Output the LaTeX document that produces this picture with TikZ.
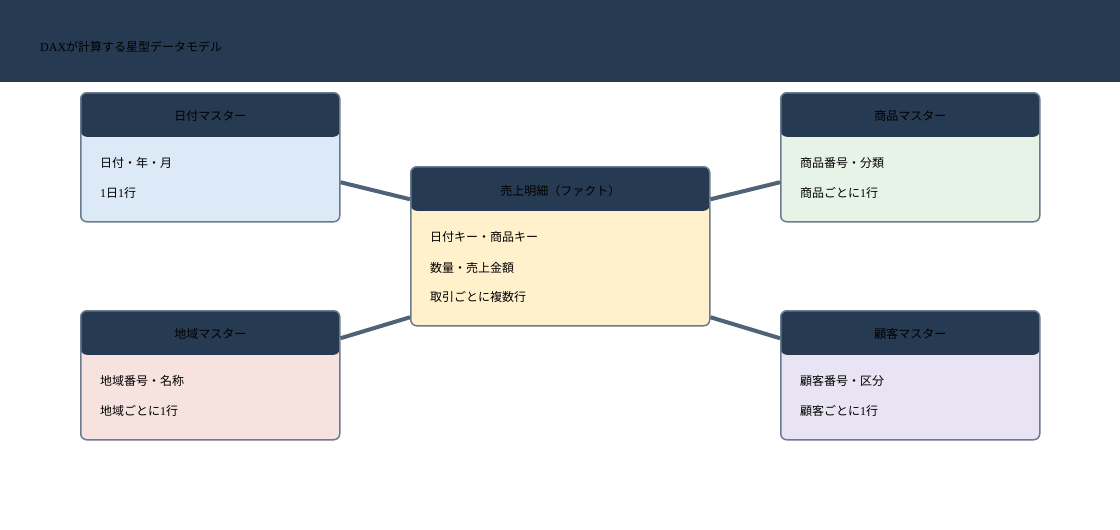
\documentclass[tikz,border=0pt]{standalone}
\usepackage{fontspec}
\setmainfont{Liberation Serif}
\newfontfamily\jp{Noto Sans CJK JP}
\usetikzlibrary{positioning}

\definecolor{bandblue}{HTML}{263A52}
\definecolor{boxline}{HTML}{6B7A8C}
\definecolor{linkgray}{HTML}{4F6278}
\definecolor{datefill}{HTML}{DCE9F6}
\definecolor{prodfill}{HTML}{E8F3E8}
\definecolor{areafill}{HTML}{F6E3E0}
\definecolor{custfill}{HTML}{E8E4F4}
\definecolor{factfill}{HTML}{FFF1CC}

\tikzset{
  tablebox/.style={draw=boxline, line width=1.5pt, rounded corners=6pt,
    anchor=north west, minimum width=259pt, minimum height=129pt, inner sep=0pt,
    path picture={\fill[bandblue] (path picture bounding box.north west)
      rectangle ([yshift=-44pt]path picture bounding box.north east);}},
  tabletitle/.style={font=\fontsize{12}{14}\selectfont, text=black},
  row/.style={anchor=west, inner sep=0pt, font=\fontsize{12}{14}\selectfont, text=black},
  link/.style={draw=linkgray, line width=4pt},
}

\begin{document}
\begin{tikzpicture}[x=1pt, y=-1pt]
\useasboundingbox [fill=white] (0,0) rectangle (1120,530);
\fill [bandblue] (0,0) rectangle (1120,82);
\node [anchor=west, inner sep=0pt, font=\fontsize{12}{14}\selectfont, text=black] (heading) at (40,47)
    {DAX{\jp が計算する星型データモデル}};

% dimension and fact tables
\node [tablebox, fill=datefill] (date) at (80,92) {};
\node [tablebox, fill=prodfill] (prod) at (780,92) {};
\node [tablebox, fill=areafill] (area) at (80,310) {};
\node [tablebox, fill=custfill] (cust) at (780,310) {};
\node [tablebox, fill=factfill, minimum width=299pt, minimum height=159pt] (fact) at (410,166) {};

\node [tabletitle] (date-t) at ([yshift=-24pt]date.north) {\jp 日付マスター};
\node [row] (date-1) at ([shift={(20pt,-71pt)}]date.north west) {\jp 日付・年・月};
\node [row] (date-2) at ([shift={(20pt,-101pt)}]date.north west) {1{\jp 日}1{\jp 行}};

\node [tabletitle] (prod-t) at ([yshift=-24pt]prod.north) {\jp 商品マスター};
\node [row] (prod-1) at ([shift={(20pt,-71pt)}]prod.north west) {\jp 商品番号・分類};
\node [row] (prod-2) at ([shift={(20pt,-101pt)}]prod.north west) {{\jp 商品ごとに}1{\jp 行}};

\node [tabletitle] (area-t) at ([yshift=-24pt]area.north) {\jp 地域マスター};
\node [row] (area-1) at ([shift={(20pt,-71pt)}]area.north west) {\jp 地域番号・名称};
\node [row] (area-2) at ([shift={(20pt,-101pt)}]area.north west) {{\jp 地域ごとに}1{\jp 行}};

\node [tabletitle] (cust-t) at ([yshift=-24pt]cust.north) {\jp 顧客マスター};
\node [row] (cust-1) at ([shift={(20pt,-71pt)}]cust.north west) {\jp 顧客番号・区分};
\node [row] (cust-2) at ([shift={(20pt,-101pt)}]cust.north west) {{\jp 顧客ごとに}1{\jp 行}};

\node [tabletitle] (fact-t) at ([yshift=-25pt]fact.north) {\jp 売上明細（ファクト）};
\node [row] (fact-1) at ([shift={(20pt,-71pt)}]fact.north west) {\jp 日付キー・商品キー};
\node [row] (fact-2) at ([shift={(20pt,-102pt)}]fact.north west) {\jp 数量・売上金額};
\node [row] (fact-3) at ([shift={(20pt,-131pt)}]fact.north west) {\jp 取引ごとに複数行};

% star links
\draw [link] ([yshift=-25pt]date.east) -- ([yshift=47pt]fact.west);
\draw [link] ([yshift=47pt]fact.east) -- ([yshift=-25pt]prod.west);
\draw [link] ([yshift=37pt]area.east) -- ([yshift=-71pt]fact.west);
\draw [link] ([yshift=-71pt]fact.east) -- ([yshift=37pt]cust.west);
\end{tikzpicture}
\end{document}
